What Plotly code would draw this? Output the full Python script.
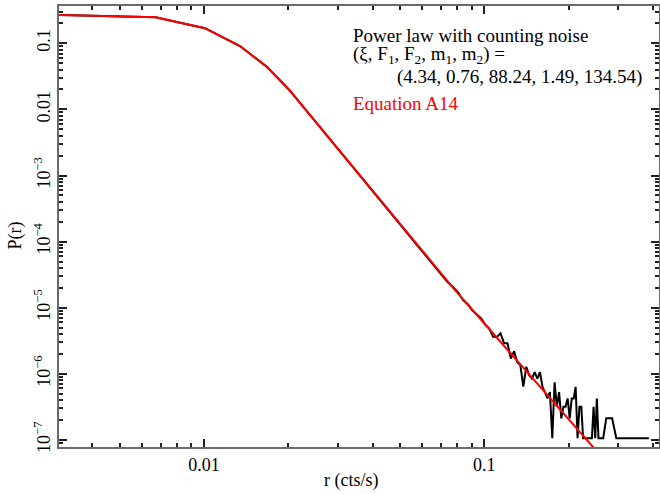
import plotly.graph_objects as go

# ---- data ----
r_model = [0.0030, 0.00336, 0.00672, 0.01008, 0.01344, 0.0168, 0.02016, 0.02352, 0.02688, 0.03024,
           0.0336, 0.03696, 0.04032, 0.04368, 0.04704, 0.0504, 0.05376, 0.05712, 0.06048, 0.06384,
           0.0672, 0.07056, 0.07392, 0.07728, 0.08064, 0.084, 0.08736, 0.09072, 0.09408, 0.09744,
           0.1008, 0.10416, 0.10752, 0.11088, 0.11424, 0.1176, 0.12096, 0.12432, 0.12768, 0.13104,
           0.1344, 0.13776, 0.14112, 0.14448, 0.14784, 0.1512, 0.15456, 0.15792, 0.16128, 0.16464,
           0.168, 0.17136, 0.17472, 0.17808, 0.18144, 0.1848, 0.18816, 0.19152, 0.19488, 0.19824,
           0.2016, 0.20496, 0.20832, 0.21168, 0.21504, 0.2184, 0.22176, 0.22512, 0.22848, 0.23184,
           0.2352, 0.23856, 0.24192, 0.24528, 0.24864]
p_model = [0.268, 0.266, 0.247, 0.169, 0.091, 0.0438, 0.01965, 8.89e-3, 4.47e-3, 2.44e-3,
           1.42e-3, 8.67e-4, 5.54e-4, 3.67e-4, 2.50e-4, 1.75e-4, 1.26e-4, 9.22e-5, 6.86e-5, 5.19e-5,
           3.99e-5, 3.11e-5, 2.49e-5, 2.01e-5, 1.63e-5, 1.34e-5, 1.11e-5, 9.27e-6, 7.78e-6, 6.56e-6,
           5.57e-6, 4.75e-6, 4.08e-6, 3.52e-6, 3.05e-6, 2.65e-6, 2.32e-6, 2.03e-6, 1.78e-6, 1.57e-6,
           1.39e-6, 1.24e-6, 1.10e-6, 9.84e-7, 8.80e-7, 7.90e-7, 7.10e-7, 6.40e-7, 5.79e-7, 5.24e-7,
           4.75e-7, 4.32e-7, 3.94e-7, 3.59e-7, 3.28e-7, 3.00e-7, 2.75e-7, 2.53e-7, 2.32e-7, 2.14e-7,
           1.97e-7, 1.82e-7, 1.69e-7, 1.56e-7, 1.45e-7, 1.34e-7, 1.25e-7, 1.16e-7, 1.08e-7, 1.01e-7,
           9.40e-8, 8.77e-8, 8.20e-8, 7.67e-8, 7.17e-8]

r_data = [0.0030, 0.00336, 0.00672, 0.01008, 0.01344, 0.0168, 0.02016, 0.02352, 0.02688, 0.03024,
          0.0336, 0.03696, 0.04032, 0.04368, 0.04704, 0.0504, 0.05376, 0.05712, 0.06048, 0.06384,
          0.0672, 0.07056, 0.07392, 0.07728, 0.08064, 0.084, 0.08736, 0.09072, 0.09408, 0.09744,
          0.1008, 0.10416, 0.10752, 0.11088, 0.11424, 0.1176, 0.12096, 0.12432, 0.12768, 0.13104,
          0.1344, 0.13776, 0.14112, 0.14448, 0.14784, 0.1512, 0.15456, 0.15792, 0.16128, 0.16464,
          0.168, 0.17136, 0.17472, 0.17808, 0.18144, 0.1848, 0.18816, 0.19152, 0.19488, 0.19824,
          0.2016, 0.20496, 0.20832, 0.21168, 0.21504, 0.2184, 0.22176, 0.22512, 0.23184, 0.23856,
          0.24192, 0.24528, 0.24864, 0.252, 0.25536, 0.26544, 0.27216, 0.2856, 0.29568, 0.3864]
p_data = [0.268, 0.266, 0.247, 0.169, 0.091, 0.0437, 0.0197, 8.93e-3, 4.45e-3, 2.45e-3,
          1.41e-3, 8.72e-4, 5.50e-4, 3.70e-4, 2.48e-4, 1.77e-4, 1.24e-4, 9.35e-5, 6.75e-5, 5.28e-5,
          3.92e-5, 3.16e-5, 2.44e-5, 2.06e-5, 1.70e-5, 1.30e-5, 1.13e-5, 9.05e-6, 7.95e-6, 6.90e-6,
          5.50e-6, 4.85e-6, 3.64e-6, 3.60e-6, 4.10e-6, 2.90e-6, 2.90e-6, 1.70e-6, 2.20e-6, 1.50e-6,
          1.36e-6, 6.40e-7, 1.28e-6, 9.50e-7, 8.48e-7, 1.06e-6, 8.48e-7, 1.06e-6, 6.36e-7, 5.30e-7,
          4.24e-7, 5.30e-7, 1.06e-7, 7.42e-7, 3.18e-7, 5.30e-7, 2.12e-7, 3.18e-7, 3.18e-7, 4.24e-7,
          2.12e-7, 4.24e-7, 4.24e-7, 6.36e-7, 1.06e-7, 3.18e-7, 3.18e-7, 1.06e-7, 1.06e-7, 1.06e-7,
          1.06e-7, 3.18e-7, 1.06e-7, 4.24e-7, 1.06e-7, 1.06e-7, 2.12e-7, 2.12e-7, 1.06e-7, 1.06e-7]

x_tickvals = [0.01, 0.1]
x_ticktext = ["0.01", "0.1"]
y_tickvals = [0.1, 0.01, 1e-3, 1e-4, 1e-5, 1e-6, 1e-7]
y_ticktext = ["0.1", "0.01", "10<sup>\u22123</sup>", "10<sup>\u22124</sup>",
              "10<sup>\u22125</sup>", "10<sup>\u22126</sup>", "10<sup>\u22127</sup>"]

FONT = "Liberation Serif, Times New Roman, serif"

fig = go.Figure()
fig.add_trace(go.Scatter(x=r_data, y=p_data, mode="lines",
                         line=dict(color="black", width=2), showlegend=False))
fig.add_trace(go.Scatter(x=r_model, y=p_model, mode="lines",
                         line=dict(color="#ff0000", width=2), showlegend=False))

x_minor = [m * 10 ** e for e in (-3, -2, -1) for m in range(2, 10)]
y_minor = [m * 10 ** e for e in range(-8, 0) for m in range(2, 10)]

axis_common = dict(showgrid=False, zeroline=False, showline=True, linecolor="#6a6a6a",
                   linewidth=2, mirror="allticks", ticks="inside", tickcolor="#222",
                   tickwidth=1.5, automargin=False,
                   tickfont=dict(family=FONT, size=18, color="black"))

fig.update_xaxes(type="log", range=[-2.517, -0.377], tickmode="array",
                 tickvals=x_tickvals, ticktext=x_ticktext, ticklen=8,
                 minor=dict(tickmode="array", tickvals=x_minor, ticks="inside",
                            ticklen=4, tickcolor="#222", tickwidth=1.5, showgrid=False),
                 **axis_common)
fig.update_yaxes(type="log", range=[-7.107, -0.436], tickmode="array",
                 tickvals=y_tickvals, ticktext=y_ticktext, ticklen=8, tickangle=-90,
                 minor=dict(tickmode="array", tickvals=y_minor, ticks="inside",
                            ticklen=4, tickcolor="#222", tickwidth=1.5, showgrid=False),
                 **axis_common)

title_font = dict(family=FONT, size=18, color="black")
fig.add_annotation(xref="paper", yref="paper", x=0.487, y=-0.075, xanchor="center",
                   yanchor="middle", showarrow=False, text="r (cts/s)", font=title_font)
fig.add_annotation(xref="paper", yref="paper", x=-0.073, y=0.48, xanchor="center",
                   yanchor="middle", showarrow=False, text="P(r)", textangle=-90,
                   font=title_font)

ann_font = dict(family=FONT, size=19, color="black")
fig.add_annotation(xref="paper", yref="paper", x=0.4863, y=0.932, xanchor="left",
                   yanchor="middle", showarrow=False, text="Power law with counting noise",
                   font=ann_font)
fig.add_annotation(xref="paper", yref="paper", x=0.4863, y=0.889, xanchor="left",
                   yanchor="middle", showarrow=False,
                   text="(\u03be, F<sub>1</sub>, F<sub>2</sub>, m<sub>1</sub>, m<sub>2</sub>) =",
                   font=ann_font)
fig.add_annotation(xref="paper", yref="paper", x=0.9758, y=0.8396, xanchor="right",
                   yanchor="middle", showarrow=False,
                   text="(4.34, 0.76, 88.24, 1.49, 134.54)", font=ann_font)
fig.add_annotation(xref="paper", yref="paper", x=0.4863, y=0.7792, xanchor="left",
                   yanchor="middle", showarrow=False, text="Equation A14",
                   font=dict(family=FONT, size=19, color="#ff0000"))

fig.update_layout(width=660, height=494, margin=dict(l=59, r=1, t=6, b=47),
                  paper_bgcolor="white", plot_bgcolor="white",
                  font=dict(family=FONT, size=18, color="black"))

fig.write_html("out.html", config={"displayModeBar": False},
               post_script="document.body.style.margin='0';document.body.style.overflow='hidden';")
